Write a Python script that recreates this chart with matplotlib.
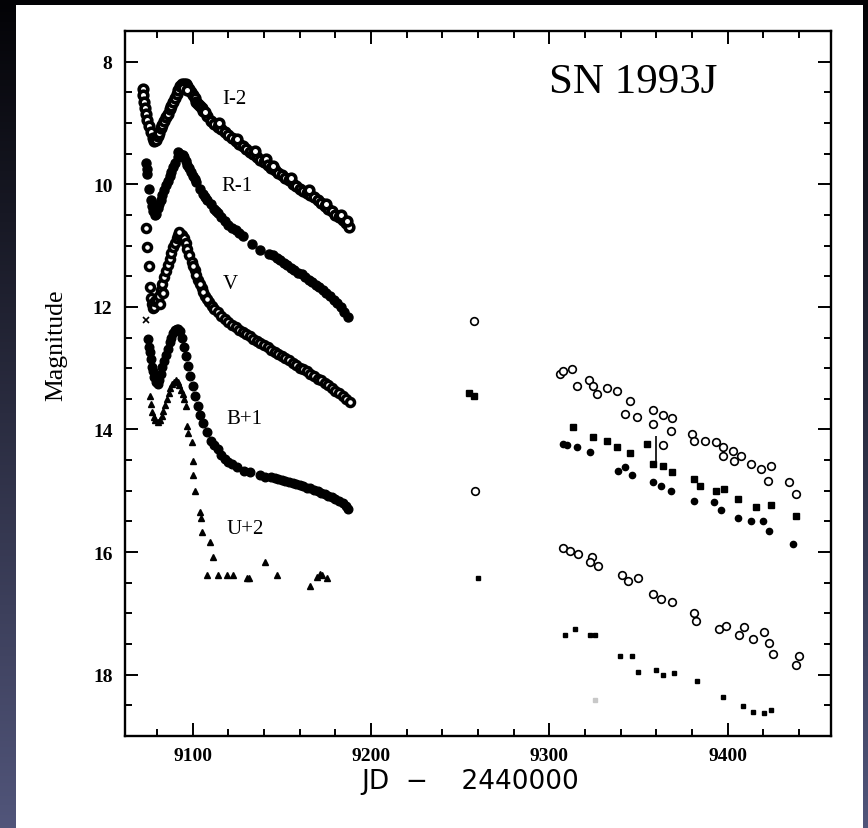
import numpy as np
import matplotlib
matplotlib.use('Agg')
import matplotlib.pyplot as plt
from matplotlib.patches import Rectangle

# ---- early light curves (JD - 2440000, magnitude) ----
# I-2 (open circles)
i_jd = [9072.0, 9072.3, 9072.6, 9073.0, 9073.5, 9074.5, 9075.5, 9076.5, 9077.5, 9078.5,
        9079.5, 9080.5, 9081.0, 9082.0, 9083.0, 9084.0, 9085.0, 9086.0, 9087.0, 9088.0,
        9089.0, 9090.0, 9091.0, 9092.0, 9093.0,
        9094.0, 9095.0, 9096.0, 9097.0, 9098.0, 9099.0, 9100.0, 9101.0, 9102.0, 9103.0,
        9104.0, 9105.0,
        9106.0, 9108.0, 9110.0, 9112.0, 9114.0, 9116.0, 9118.0, 9120.0, 9122.0, 9124.0,
        9126.0, 9128.0, 9130.0, 9132.0, 9134.0, 9136.0, 9138.0, 9140.0, 9141.0, 9142.0,
        9144.0, 9146.0, 9148.0, 9150.0, 9152.0, 9154.0, 9156.0, 9158.0, 9160.0, 9162.0,
        9164.0, 9166.0, 9168.0, 9170.0, 9172.0, 9174.0, 9176.0, 9178.0, 9180.0, 9182.0,
        9184.0, 9186.0, 9187.5, 9094.5, 9096.5, 9107.0, 9115.0, 9125.0, 9135.0, 9145.0,
        9155.0, 9165.0, 9175.0, 9183.0, 9186.5]
i_mag = [8.45, 8.55, 8.65, 8.75, 8.85, 8.95, 9.05, 9.15, 9.25, 9.30,
         9.27, 9.21, 9.16, 9.09, 9.03, 8.97, 8.91, 8.85, 8.78, 8.72,
         8.66, 8.60, 8.53, 8.46, 8.40,
         8.37, 8.36, 8.37, 8.40, 8.45, 8.50, 8.55, 8.60, 8.65, 8.69,
         8.72, 8.76,
         8.80, 8.88, 8.96, 9.02, 9.06, 9.10, 9.15, 9.20, 9.25, 9.30,
         9.34, 9.38, 9.43, 9.47, 9.51, 9.55, 9.60, 9.64, 9.58, 9.69,
         9.74, 9.77, 9.81, 9.85, 9.89, 9.93, 9.99, 10.03, 10.07, 10.11,
         10.15, 10.18, 10.21, 10.25, 10.30, 10.35, 10.40, 10.44, 10.50, 10.54,
         10.59, 10.64, 10.69, 8.43, 8.46, 8.82, 9.00, 9.26, 9.46, 9.70,
         9.90, 10.10, 10.32, 10.50, 10.60]

# R-1 (filled circles)
r_jd = [9074.0, 9074.1, 9074.2, 9075.5, 9076.5, 9077.0, 9077.5, 9078.6, 9079.5, 9080.5,
        9081.0, 9082.0, 9083.0, 9084.0, 9085.0, 9086.0, 9087.0, 9088.0, 9089.0, 9090.0,
        9091.5, 9093.0, 9094.5, 9096.0, 9097.0, 9098.0, 9099.0,
        9100.0, 9102.0, 9104.0, 9106.0, 9108.0, 9110.0, 9112.0, 9114.0, 9116.0, 9118.0,
        9120.0, 9122.0, 9124.0, 9126.0, 9128.0, 9133.0, 9138.0, 9143.0, 9145.0, 9147.0,
        9149.0, 9151.0, 9153.0, 9155.0, 9157.0, 9159.0, 9161.0, 9163.0, 9165.0, 9167.0,
        9169.0, 9171.0, 9173.0, 9175.0, 9177.0, 9179.0, 9181.0, 9183.0, 9185.0, 9187.0,
        9092.0, 9095.0, 9101.0, 9107.0, 9113.0]
r_mag = [9.66, 9.75, 9.83, 10.07, 10.25, 10.35, 10.43, 10.50, 10.48, 10.38,
         10.32, 10.25, 10.17, 10.10, 10.02, 9.95, 9.87, 9.80, 9.72, 9.65,
         9.55, 9.50, 9.53, 9.62, 9.68, 9.74, 9.80,
         9.86, 9.97, 10.07, 10.16, 10.25, 10.33, 10.41, 10.47, 10.53, 10.60,
         10.66, 10.71, 10.75, 10.80, 10.84, 10.98, 11.07, 11.13, 11.16, 11.20,
         11.24, 11.28, 11.32, 11.36, 11.40, 11.44, 11.47, 11.51, 11.56, 11.60,
         11.64, 11.68, 11.72, 11.77, 11.82, 11.88, 11.94, 12.01, 12.08, 12.16,
         9.47, 9.56, 9.92, 10.20, 10.44]

# V (open circles)
v_jd = [9073.6, 9074.2, 9075.3, 9076.3, 9076.6, 9077.0, 9077.5, 9078.2, 9079.0, 9080.0,
        9081.0, 9082.0, 9083.0, 9084.0, 9085.0, 9086.0, 9087.0, 9088.0, 9089.0, 9090.0,
        9091.0, 9092.0, 9093.0, 9094.0, 9095.0, 9096.0, 9097.0, 9098.0, 9099.4, 9101.0,
        9103.0, 9105.0, 9107.0, 9109.0, 9110.7, 9112.0, 9114.0, 9116.0, 9118.0, 9120.0,
        9122.0, 9124.0, 9126.0, 9128.0, 9130.0, 9132.0, 9134.0, 9136.0, 9138.0, 9140.0,
        9142.0, 9144.0, 9146.0, 9148.0, 9150.0, 9152.0, 9154.0, 9156.0, 9158.0, 9160.0,
        9162.0, 9164.0, 9166.0, 9168.0, 9170.0, 9172.0, 9174.0, 9176.0, 9178.0, 9180.0,
        9182.0, 9184.0, 9186.0, 9188.0, 9081.5, 9083.5, 9092.5, 9100.0, 9102.0, 9104.0,
        9106.0, 9108.0]
v_mag = [10.72, 11.02, 11.34, 11.68, 11.85, 11.95, 12.02, 12.00, 11.90, 11.88,
         11.82, 11.72, 11.62, 11.52, 11.42, 11.32, 11.22, 11.12, 11.03, 10.95,
         10.88, 10.83, 10.81, 10.82, 10.87, 10.95, 11.05, 11.15, 11.26, 11.40,
         11.56, 11.70, 11.82, 11.92, 11.98, 12.03, 12.09, 12.15, 12.19, 12.24,
         12.29, 12.33, 12.37, 12.41, 12.45, 12.48, 12.52, 12.56, 12.59, 12.63,
         12.66, 12.70, 12.73, 12.77, 12.80, 12.84, 12.87, 12.91, 12.95, 12.99,
         13.02, 13.05, 13.09, 13.13, 13.17, 13.20, 13.24, 13.28, 13.32, 13.37,
         13.41, 13.45, 13.50, 13.55, 11.95, 11.78, 10.78, 11.33, 11.48, 11.63,
         11.76, 11.87]

# B+1 (filled circles)
b_jd = [9074.7, 9075.5, 9075.8, 9076.5, 9077.0, 9077.5, 9078.3, 9079.3, 9080.3, 9081.2,
        9082.0, 9083.0, 9084.0, 9085.0, 9086.0, 9087.0, 9088.0, 9089.0, 9090.0, 9091.0,
        9092.0, 9093.0, 9094.0, 9095.0, 9096.0, 9097.2, 9098.5, 9100.0, 9101.5, 9102.8,
        9104.0, 9105.5, 9107.9, 9110.0, 9112.0, 9114.0, 9116.0, 9118.0, 9120.0, 9122.0,
        9125.0, 9129.0, 9132.0, 9137.6, 9140.4, 9144.0, 9146.0, 9148.0, 9150.0, 9152.0,
        9154.0, 9156.0,
        9158.0, 9160.0, 9162.0, 9164.0, 9166.0, 9168.0, 9170.0, 9172.0, 9174.0, 9176.0,
        9178.0, 9180.0, 9182.0, 9184.0, 9186.0, 9187.0]
b_mag = [12.52, 12.65, 12.73, 12.85, 12.98, 13.05, 13.15, 13.22, 13.25, 13.20,
         13.10, 12.98, 12.88, 12.78, 12.68, 12.58, 12.50, 12.43, 12.38, 12.36,
         12.36, 12.40, 12.50, 12.65, 12.80, 12.96, 13.12, 13.29, 13.45, 13.61,
         13.76, 13.90, 14.04, 14.18, 14.25, 14.32, 14.42, 14.48, 14.53, 14.56,
         14.61, 14.67, 14.70, 14.75, 14.77, 14.77, 14.79, 14.81, 14.83, 14.84,
         14.86, 14.87,
         14.89, 14.91, 14.93, 14.95, 14.96, 14.98, 15.00, 15.03, 15.06, 15.08,
         15.10, 15.14, 15.17, 15.20, 15.25, 15.29]

# U+2 (filled triangles)
u_jd = [9075.8, 9076.5, 9077.0, 9078.0, 9079.0, 9080.3, 9081.5, 9082.5, 9083.5, 9084.5,
        9085.5, 9086.5, 9087.5, 9088.5, 9089.5, 9090.5, 9091.5, 9092.5, 9093.5, 9094.4,
        9095.2, 9096.0, 9096.6, 9097.5, 9099.4, 9100.0, 9100.2, 9101.1, 9103.9, 9104.5,
        9105.0, 9109.6, 9111.2, 9107.9, 9114.0, 9119.0, 9122.5, 9130.3, 9131.5, 9140.4,
        9147.2, 9165.7, 9169.7, 9171.3, 9172.5, 9175.3]
u_mag = [13.45, 13.58, 13.71, 13.80, 13.85, 13.87, 13.85, 13.78, 13.70, 13.60,
         13.50, 13.40, 13.32, 13.26, 13.22, 13.20, 13.22, 13.27, 13.35, 13.42,
         13.50, 13.62, 13.95, 14.05, 14.20, 14.51, 14.75, 15.00, 15.34, 15.45,
         15.67, 15.83, 16.08, 16.38, 16.38, 16.38, 16.38, 16.43, 16.43, 16.16,
         16.38, 16.55, 16.40, 16.35, 16.38, 16.43]

# first B point plotted as a cross
bx_jd = [9073.7]
bx_mag = [12.22]

# ---- later epochs ----
i_late_jd = [9257.9, 9306.2, 9307.5, 9312.9, 9315.7, 9322.0, 9324.7, 9327.0, 9332.6, 9338.2,
             9345.5, 9342.7, 9349.4, 9357.9, 9358.4, 9364.0, 9369.0, 9368.0, 9363.5, 9380.3,
             9381.0, 9387.6, 9393.3, 9397.2, 9397.2, 9402.8, 9403.4, 9407.3, 9412.9, 9418.5,
             9424.2, 9422.5, 9434.3, 9438.2]
i_late_mag = [12.23, 13.09, 13.05, 13.01, 13.29, 13.20, 13.29, 13.42, 13.33, 13.38,
              13.53, 13.74, 13.79, 13.69, 13.91, 13.77, 13.82, 14.02, 14.26, 14.07,
              14.18, 14.18, 14.20, 14.28, 14.43, 14.35, 14.51, 14.43, 14.56, 14.64,
              14.59, 14.84, 14.85, 15.05]

r_late_jd = [9255.0, 9257.9, 9313.5, 9324.7, 9332.6, 9338.2, 9345.5, 9355.0, 9357.9, 9364.0,
             9369.0, 9381.0, 9384.8, 9393.3, 9397.8, 9405.6, 9415.7, 9424.2, 9438.2]
r_late_mag = [13.40, 13.45, 13.96, 14.12, 14.18, 14.28, 14.39, 14.23, 14.56, 14.59,
              14.69, 14.80, 14.92, 15.00, 14.97, 15.13, 15.26, 15.24, 15.41]

r2_late_jd = [9307.9, 9310.0, 9315.7, 9323.0, 9338.8, 9342.7, 9346.6, 9357.9, 9362.4, 9368.0,
              9381.0, 9392.1, 9396.1, 9405.6, 9412.9, 9419.7, 9423.0, 9436.5]
r2_late_mag = [14.23, 14.25, 14.28, 14.36, 14.67, 14.61, 14.74, 14.85, 14.92, 15.00,
               15.16, 15.18, 15.32, 15.45, 15.50, 15.49, 15.65, 15.86]

v_late_jd = [9258.4, 9307.9, 9311.8, 9316.3, 9324.2, 9323.0, 9327.5, 9341.0, 9344.4, 9350.0,
             9358.4, 9362.4, 9369.0, 9381.0, 9382.0, 9395.0, 9398.9, 9406.2, 9409.0, 9414.0,
             9420.2, 9423.0, 9425.3, 9438.2, 9439.9]
v_late_mag = [15.00, 15.94, 15.98, 16.03, 16.08, 16.16, 16.22, 16.38, 16.47, 16.43,
              16.68, 16.76, 16.81, 17.00, 17.12, 17.25, 17.20, 17.36, 17.22, 17.41,
              17.30, 17.49, 17.67, 17.84, 17.69]

b_late_jd = [9260.0, 9309.0, 9314.6, 9323.0, 9325.8, 9339.9, 9346.6, 9350.0, 9359.6, 9364.0,
             9369.7, 9383.1, 9397.2, 9408.4, 9414.0, 9420.2, 9424.2]
b_late_mag = [16.43, 17.35, 17.25, 17.36, 17.35, 17.69, 17.69, 17.95, 17.92, 18.01,
              17.97, 18.11, 18.36, 18.51, 18.61, 18.62, 18.57]

faint_jd = [9325.8]
faint_mag = [18.41]

# error bar on one late point
err_jd = [9359.6]
err_lo = [14.10]
err_hi = [14.52]

band_names = ['I-2', 'R-1', 'V', 'B+1', 'U+2']
band_label_jd = [9116.3, 9116.3, 9116.9, 9119.1, 9119.1]
band_label_mag = [8.60, 10.02, 11.62, 13.82, 15.62]

# ---- figure with dark slide background ----
fig = plt.figure(figsize=(8.68, 8.29), dpi=100, facecolor='black')

bg = fig.add_axes([0, 0, 1, 1], zorder=-2)
grad = np.linspace(0, 1, 256)[:, None, None] * np.array([78, 82, 116])[None, None, :] / 255.0
grad = grad + np.array([3, 3, 6])[None, None, :] / 255.0
bg.imshow(grad, extent=[0, 1, 0, 1], aspect='auto')
bg.axis('off')

fig.add_artist(Rectangle((16 / 868, 0), (863 - 16) / 868, 1 - 6 / 829,
                         transform=fig.transFigure, facecolor='white',
                         edgecolor='none', zorder=-1))

ax = fig.add_axes([125 / 868, 1 - 737 / 829, 706 / 868, 705 / 829])
ax.set_facecolor('white')

ms_open = dict(linestyle='none', marker='o', mfc='white', mec='black')
ms_fill = dict(linestyle='none', marker='o', color='black')

ax.plot(i_jd, i_mag, ms=6.2, mew=2.6, **ms_open)
ax.plot(r_jd, r_mag, ms=6.5, **ms_fill)
ax.plot(v_jd, v_mag, ms=5.8, mew=2.5, **ms_open)
ax.plot(b_jd, b_mag, ms=6.2, **ms_fill)
ax.plot(u_jd, u_mag, linestyle='none', marker='^', color='black', ms=4.2)
ax.plot(bx_jd, bx_mag, linestyle='none', marker='x', color='black', ms=4, mew=1.2)

ax.plot(i_late_jd, i_late_mag, ms=5.5, mew=1.2, **ms_open)
ax.plot(r_late_jd, r_late_mag, linestyle='none', marker='s', color='black', ms=4)
ax.plot(r2_late_jd, r2_late_mag, ms=4.5, **ms_fill)
ax.plot(v_late_jd, v_late_mag, ms=5.5, mew=1.2, **ms_open)
ax.plot(b_late_jd, b_late_mag, linestyle='none', marker='s', color='black', ms=3.5)
ax.plot(faint_jd, faint_mag, linestyle='none', marker='s', color='#c8c8c8', ms=3.5)
ax.vlines(err_jd, err_lo, err_hi, color='black', lw=1.2)

for name, x, y in zip(band_names, band_label_jd, band_label_mag):
    ax.text(x, y, name, fontsize=15, family='Liberation Serif', ha='left', va='center')

ax.text(9394, 8.33, 'SN 1993J', fontsize=31, family='Liberation Serif',
        ha='right', va='center')

ax.set_xlim(9062, 9458)
ax.set_ylim(19.0, 7.5)
ax.set_xticks([9100, 9200, 9300, 9400])
ax.set_xticks(np.arange(9080, 9460, 20), minor=True)
ax.set_yticks([8, 10, 12, 14, 16, 18])
ax.set_yticks(np.arange(8, 19.1, 0.5), minor=True)

ax.tick_params(which='both', direction='in', top=True, right=True, width=1.4,
               labelsize=14)
ax.tick_params(which='major', length=9.5)
ax.tick_params(which='minor', length=5)
ax.tick_params(axis='x', pad=8)
ax.tick_params(axis='y', pad=9)
for lab in ax.get_xticklabels() + ax.get_yticklabels():
    lab.set_family('Liberation Serif')
    lab.set_fontweight('bold')

for sp in ax.spines.values():
    sp.set_linewidth(1.7)

ax.set_ylabel('Magnitude', fontsize=18.5, family='Liberation Serif')
ax.yaxis.set_label_coords(-0.082, 0.556)
ax.set_xlabel('JD  \u2212    2440000', fontsize=19, family='DejaVu Sans', va='center')
ax.xaxis.set_label_coords(0.489, -0.064)

fig.savefig('out.png', dpi=100, facecolor='black')
